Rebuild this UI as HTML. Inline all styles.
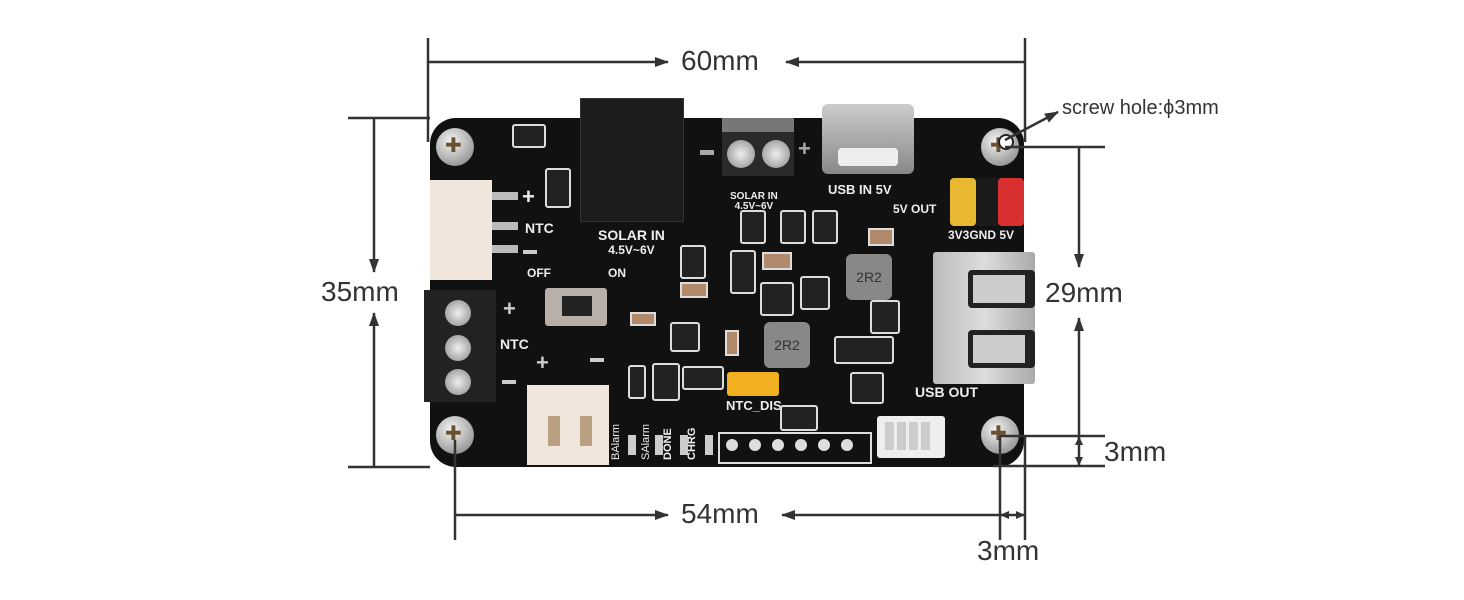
<!DOCTYPE html>
<html><head><meta charset="utf-8"><style>
body{margin:0;width:1464px;height:600px;background:#fff;position:relative;overflow:hidden;font-family:"Liberation Sans",sans-serif}
.a{position:absolute}
.t{position:absolute;color:#333;font-size:28px;white-space:nowrap}
.w{position:absolute;color:#eee;font-weight:bold;font-size:12px;white-space:nowrap}
.screw{position:absolute;width:38px;height:38px;border-radius:50%;background:radial-gradient(circle at 40% 35%,#f4f4f4,#aaa 60%,#777);}
.screw:after{content:"✚";position:absolute;left:9px;top:5px;color:#6b5030;font-size:20px}
.smd{position:absolute;border:2px solid #ddd;border-radius:3px;background:#222}
.cap{position:absolute;background:#b08a6a;border:2px solid #ddd}
</style></head><body>
<div class="a" style="left:430px;top:118px;width:594px;height:349px;background:#111;border-radius:26px"></div>
<div class="screw" style="left:436px;top:128px"></div>
<div class="screw" style="left:981px;top:128px"></div>
<div class="screw" style="left:436px;top:416px"></div>
<div class="screw" style="left:981px;top:416px"></div>
<div class="a" style="left:998px;top:134px;width:12px;height:12px;border-radius:50%;background:#fff;border:2px solid #222"></div>
<div class="a" style="left:580px;top:98px;width:102px;height:122px;background:#1c1c1c;border:1px solid #333"></div>
<div class="a" style="left:722px;top:118px;width:72px;height:58px;background:#2a2a2a"></div>
<div class="a" style="left:722px;top:118px;width:72px;height:14px;background:#777"></div>
<div class="a" style="left:727px;top:140px;width:28px;height:28px;border-radius:50%;background:radial-gradient(#eee,#888)"></div>
<div class="a" style="left:762px;top:140px;width:28px;height:28px;border-radius:50%;background:radial-gradient(#eee,#888)"></div>
<div class="a" style="left:700px;top:150px;width:14px;height:5px;background:#aaa"></div>
<div class="w" style="left:798px;top:136px;font-size:22px;color:#aaa">+</div>
<div class="w" style="left:730px;top:192px;font-size:10px;line-height:10px;text-align:center">SOLAR IN<br>4.5V~6V</div>
<div class="a" style="left:822px;top:104px;width:92px;height:70px;background:linear-gradient(#ccc,#888);border-radius:6px"></div>
<div class="a" style="left:838px;top:148px;width:60px;height:18px;background:#eee;border-radius:4px"></div>
<div class="w" style="left:828px;top:182px;font-size:13px">USB IN 5V</div>
<div class="a" style="left:950px;top:178px;width:26px;height:48px;background:#e8b830;border-radius:4px"></div>
<div class="a" style="left:976px;top:178px;width:22px;height:48px;background:#1a1a1a"></div>
<div class="a" style="left:998px;top:178px;width:26px;height:48px;background:#d83030;border-radius:4px"></div>
<div class="w" style="left:948px;top:228px;font-size:12px">3V3GND 5V</div>
<div class="w" style="left:893px;top:202px;font-size:12px">5V OUT</div>
<div class="a" style="left:430px;top:180px;width:62px;height:100px;background:#f0e6dc"></div>
<div class="a" style="left:492px;top:192px;width:26px;height:8px;background:#bbb"></div>
<div class="a" style="left:492px;top:222px;width:26px;height:8px;background:#bbb"></div>
<div class="a" style="left:492px;top:245px;width:26px;height:8px;background:#bbb"></div>
<div class="w" style="left:522px;top:184px;font-size:22px">+</div>
<div class="w" style="left:525px;top:220px;font-size:14px">NTC</div>
<div class="a" style="left:523px;top:250px;width:14px;height:4px;background:#ccc"></div>
<div class="w" style="left:598px;top:228px;font-size:14px;text-align:center;line-height:14px">SOLAR IN<br><span style="font-size:12px">4.5V~6V</span></div>
<div class="a" style="left:424px;top:290px;width:72px;height:112px;background:#222"></div>
<div class="a" style="left:445px;top:300px;width:26px;height:26px;border-radius:50%;background:radial-gradient(#eee,#888)"></div>
<div class="a" style="left:445px;top:335px;width:26px;height:26px;border-radius:50%;background:radial-gradient(#eee,#888)"></div>
<div class="a" style="left:445px;top:369px;width:26px;height:26px;border-radius:50%;background:radial-gradient(#eee,#888)"></div>
<div class="w" style="left:503px;top:296px;font-size:22px;color:#ccc">+</div>
<div class="w" style="left:500px;top:336px;font-size:14px">NTC</div>
<div class="a" style="left:502px;top:380px;width:14px;height:4px;background:#ccc"></div>
<div class="w" style="left:527px;top:266px">OFF</div>
<div class="w" style="left:608px;top:266px">ON</div>
<div class="a" style="left:545px;top:288px;width:62px;height:38px;background:#b8b0a8;border-radius:3px"></div>
<div class="a" style="left:562px;top:296px;width:30px;height:20px;background:#222"></div>
<div class="a" style="left:527px;top:385px;width:82px;height:80px;background:#f0e6dc"></div>
<div class="a" style="left:548px;top:416px;width:12px;height:30px;background:#b8a080"></div>
<div class="a" style="left:580px;top:416px;width:12px;height:30px;background:#b8a080"></div>
<div class="w" style="left:536px;top:350px;font-size:22px;color:#ccc">+</div>
<div class="a" style="left:590px;top:358px;width:14px;height:4px;background:#ccc"></div>
<div class="a" style="left:846px;top:254px;width:46px;height:46px;background:#888;border-radius:6px;color:#333;font-size:14px;text-align:center;line-height:46px">2R2</div>
<div class="a" style="left:764px;top:322px;width:46px;height:46px;background:#888;border-radius:6px;color:#333;font-size:14px;text-align:center;line-height:46px">2R2</div>
<div class="a" style="left:933px;top:252px;width:102px;height:132px;background:linear-gradient(90deg,#bbb,#ddd,#aaa);border-radius:3px"></div>
<div class="a" style="left:968px;top:270px;width:52px;height:28px;border:5px solid #222;border-right-width:10px;border-radius:4px;background:#ccc"></div>
<div class="a" style="left:968px;top:330px;width:52px;height:28px;border:5px solid #222;border-right-width:10px;border-radius:4px;background:#ccc"></div>
<div class="w" style="left:915px;top:384px;font-size:14px">USB OUT</div>
<div class="smd" style="left:512px;top:124px;width:30px;height:20px"></div>
<div class="smd" style="left:545px;top:168px;width:22px;height:36px"></div>
<div class="smd" style="left:680px;top:245px;width:22px;height:30px"></div>
<div class="smd" style="left:740px;top:210px;width:22px;height:30px"></div>
<div class="smd" style="left:780px;top:210px;width:22px;height:30px"></div>
<div class="smd" style="left:812px;top:210px;width:22px;height:30px"></div>
<div class="smd" style="left:730px;top:250px;width:22px;height:40px"></div>
<div class="cap" style="left:762px;top:252px;width:26px;height:14px"></div>
<div class="cap" style="left:868px;top:228px;width:22px;height:14px"></div>
<div class="cap" style="left:680px;top:282px;width:24px;height:12px"></div>
<div class="cap" style="left:630px;top:312px;width:22px;height:10px"></div>
<div class="smd" style="left:670px;top:322px;width:26px;height:26px"></div>
<div class="cap" style="left:725px;top:330px;width:10px;height:22px"></div>
<div class="smd" style="left:760px;top:282px;width:30px;height:30px"></div>
<div class="smd" style="left:800px;top:276px;width:26px;height:30px"></div>
<div class="smd" style="left:870px;top:300px;width:26px;height:30px"></div>
<div class="smd" style="left:834px;top:336px;width:56px;height:24px"></div>
<div class="smd" style="left:850px;top:372px;width:30px;height:28px"></div>
<div class="smd" style="left:628px;top:365px;width:14px;height:30px"></div>
<div class="smd" style="left:652px;top:363px;width:24px;height:34px"></div>
<div class="smd" style="left:682px;top:366px;width:38px;height:20px"></div>
<div class="a" style="left:727px;top:372px;width:52px;height:24px;background:#f0b020;border-radius:3px"></div>
<div class="w" style="left:726px;top:398px;font-size:13px">NTC_DIS</div>
<div class="smd" style="left:780px;top:405px;width:34px;height:22px"></div>
<div class="w" style="left:610px;top:460px;transform:rotate(-90deg);transform-origin:left top;font-size:11px;font-weight:normal">BAlarm</div>
<div class="w" style="left:640px;top:460px;transform:rotate(-90deg);transform-origin:left top;font-size:11px;font-weight:normal">SAlarm</div>
<div class="w" style="left:662px;top:460px;transform:rotate(-90deg);transform-origin:left top;font-size:11px">DONE</div>
<div class="w" style="left:686px;top:460px;transform:rotate(-90deg);transform-origin:left top;font-size:11px">CHRG</div>
<div class="a" style="left:628px;top:435px;width:8px;height:20px;background:#ccc"></div>
<div class="a" style="left:655px;top:435px;width:8px;height:20px;background:#ccc"></div>
<div class="a" style="left:680px;top:435px;width:8px;height:20px;background:#ccc"></div>
<div class="a" style="left:705px;top:435px;width:8px;height:20px;background:#ccc"></div>
<div class="a" style="left:718px;top:432px;width:150px;height:28px;border:2px solid #ddd"></div>
<div class="a" style="left:726px;top:439px;width:150px;height:14px;font-size:0">
<span style="display:inline-block;width:12px;height:12px;border-radius:50%;background:#ddd;margin-right:11px"></span><span style="display:inline-block;width:12px;height:12px;border-radius:50%;background:#ddd;margin-right:11px"></span><span style="display:inline-block;width:12px;height:12px;border-radius:50%;background:#ddd;margin-right:11px"></span><span style="display:inline-block;width:12px;height:12px;border-radius:50%;background:#ddd;margin-right:11px"></span><span style="display:inline-block;width:12px;height:12px;border-radius:50%;background:#ddd;margin-right:11px"></span><span style="display:inline-block;width:12px;height:12px;border-radius:50%;background:#ddd"></span></div>
<div class="a" style="left:877px;top:416px;width:68px;height:42px;background:#eee;border-radius:3px"></div>
<div class="a" style="left:885px;top:422px;width:46px;height:28px;background:repeating-linear-gradient(90deg,#ccc 0 9px,#eee 9px 12px)"></div>

<svg class="a" style="left:0;top:0" width="1464" height="600">
<defs><marker id="ar" markerWidth="14" markerHeight="12" refX="13" refY="6" orient="auto" markerUnits="userSpaceOnUse"><path d="M0,1 L14,6 L0,11z" fill="#333"/></marker>
<marker id="as" markerWidth="9" markerHeight="10" refX="8" refY="5" orient="auto" markerUnits="userSpaceOnUse"><path d="M0,1 L9,5 L0,9z" fill="#333"/></marker></defs>
<g stroke="#333" stroke-width="2.5" fill="none">
<line x1="428" y1="38" x2="428" y2="142"/>
<line x1="1025" y1="38" x2="1025" y2="142"/>
<line x1="428" y1="62" x2="668" y2="62" marker-end="url(#ar)"/>
<line x1="1025" y1="62" x2="786" y2="62" marker-end="url(#ar)"/>
<line x1="348" y1="118" x2="430" y2="118"/>
<line x1="348" y1="467" x2="430" y2="467"/>
<line x1="374" y1="118" x2="374" y2="272" marker-end="url(#ar)"/>
<line x1="374" y1="467" x2="374" y2="313" marker-end="url(#ar)"/>
<line x1="1005" y1="147" x2="1105" y2="147"/>
<line x1="1000" y1="436" x2="1105" y2="436"/>
<line x1="993" y1="466" x2="1105" y2="466"/>
<line x1="1079" y1="147" x2="1079" y2="267" marker-end="url(#ar)"/>
<line x1="1079" y1="436" x2="1079" y2="318" marker-end="url(#ar)"/>
<line x1="1079" y1="451" x2="1079" y2="437" marker-end="url(#as)"/>
<line x1="1079" y1="451" x2="1079" y2="465" marker-end="url(#as)"/>
<line x1="455" y1="440" x2="455" y2="540"/>
<line x1="1000" y1="436" x2="1000" y2="540"/>
<line x1="1025" y1="436" x2="1025" y2="540"/>
<line x1="455" y1="515" x2="668" y2="515" marker-end="url(#ar)"/>
<line x1="1000" y1="515" x2="782" y2="515" marker-end="url(#ar)"/>
<line x1="1012" y1="515" x2="1001" y2="515" marker-end="url(#as)"/>
<line x1="1012" y1="515" x2="1024" y2="515" marker-end="url(#as)"/>
<line x1="1005" y1="140" x2="1058" y2="112" marker-end="url(#ar)"/>
</g></svg>
<div class="t" style="left:681px;top:45px">60mm</div>
<div class="t" style="left:321px;top:276px">35mm</div>
<div class="t" style="left:1045px;top:277px">29mm</div>
<div class="t" style="left:1104px;top:436px">3mm</div>
<div class="t" style="left:681px;top:498px">54mm</div>
<div class="t" style="left:977px;top:535px">3mm</div>
<div class="t" style="left:1062px;top:97px;font-size:20px">screw hole:ϕ3mm</div>
</body></html>
